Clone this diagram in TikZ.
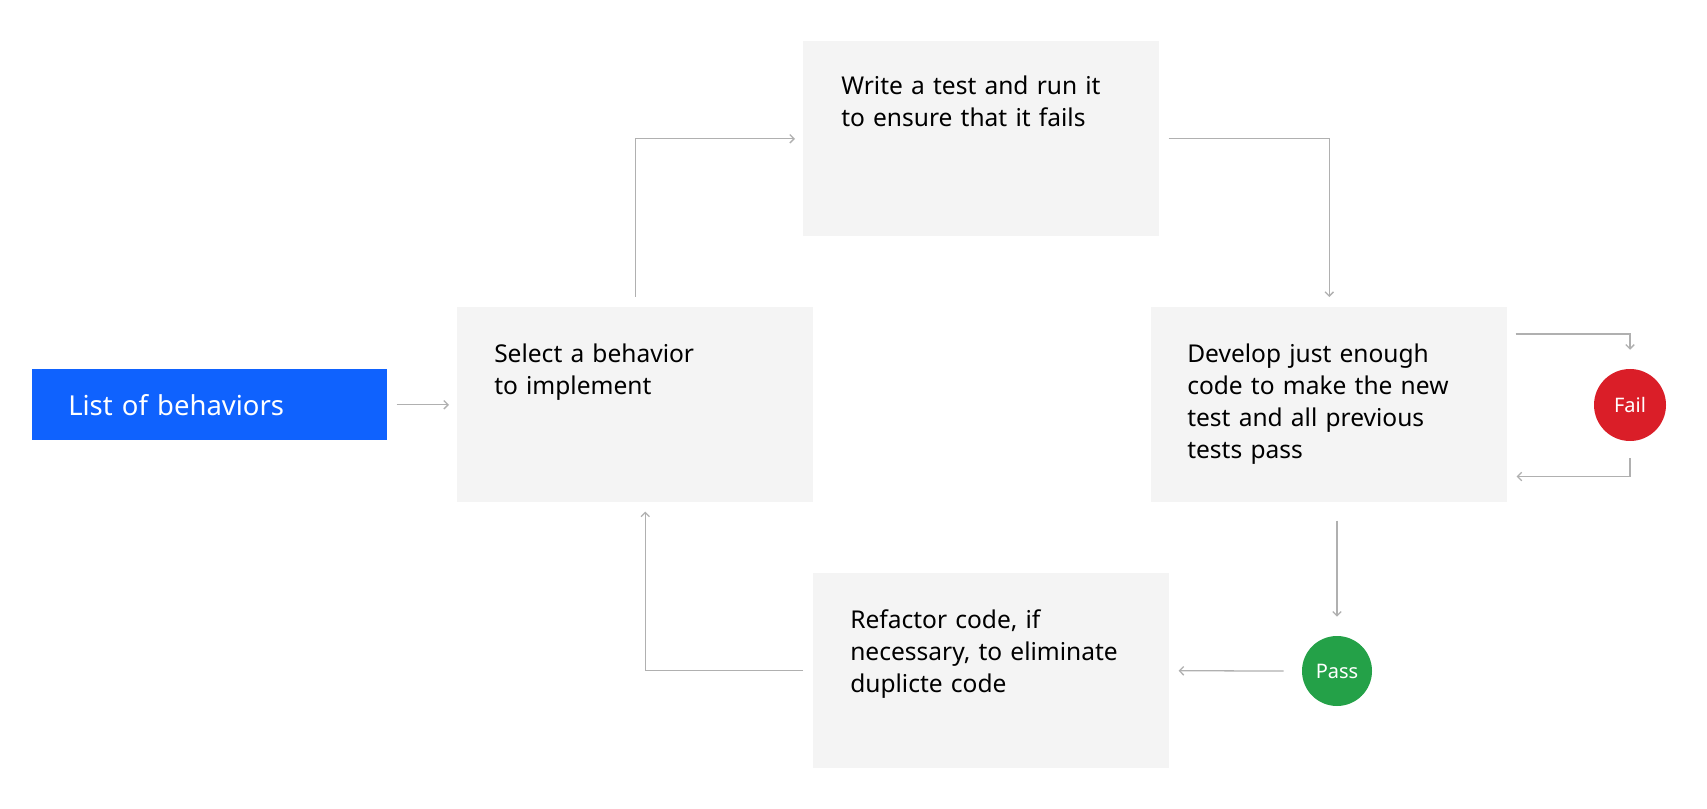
\documentclass[tikz,border=0pt]{standalone}
\usepackage{fontspec}
\setmainfont{Noto Sans}
\usetikzlibrary{arrows.meta,calc}
\definecolor{ibmblue}{HTML}{0F62FE}
\definecolor{boxgray}{HTML}{F4F4F4}
\definecolor{failred}{HTML}{DA1E28}
\definecolor{passgreen}{HTML}{24A148}
\definecolor{linegray}{HTML}{B0B0B0}
\begin{document}
\begin{tikzpicture}[x=0.75pt,y=-0.75pt,
  stepbox/.style={fill=boxgray, draw=none, inner sep=0pt, minimum width=267pt, minimum height=146.25pt, anchor=north west},
  txt/.style={text width=300pt, align=left, inner sep=0pt, anchor=base west, font=\fontsize{18.4}{24}\selectfont},
  conn/.style={draw=linegray, line width=0.95pt, -{Straight Barb[length=3.2pt,width=6.4pt]}},
  dot/.style={circle, inner sep=0pt, text=white, font=\fontsize{15}{18}\selectfont}
]
\fill[white] (0,0) rectangle (1707,809);
\useasboundingbox (0,0) rectangle (1707,809);

\node[fill=ibmblue, inner sep=0pt, minimum width=266.25pt, minimum height=53.25pt, anchor=north west] (list) at (32,369) {};
\node[txt, text=white, font=\fontsize{20.6}{26}\selectfont] (listT) at (68,415) {List of behaviors};

\node[stepbox] (sel) at (457,307) {};
\node[txt] (selT) at (494,363) {Select a behavior\\to implement};

\node[stepbox] (write) at (803,41) {};
\node[txt] (writeT) at (841,95) {Write a test and run it\\to ensure that it fails};

\node[stepbox] (dev) at (1151,307) {};
\node[txt] (devT) at (1187,363) {Develop just enough\\code to make the new\\test and all previous\\tests pass};

\node[stepbox] (ref) at (813,573) {};
\node[txt] (refT) at (850,628) {Refactor code, if\\necessary, to eliminate\\duplicte code};

\node[dot, fill=failred, minimum size=54pt] (fail) at (1630,405) {Fail};
\node[dot, fill=passgreen, minimum size=52.5pt] (pass) at (1337,671) {Pass};

\draw[conn, shorten <=6.75pt, shorten >=6pt] (list.east) -- (sel.west);
\draw[conn, shorten <=7.5pt, shorten >=6pt] (sel.north) |- (write.west);
\draw[conn, shorten <=6.75pt, shorten >=7.5pt] (write.east) -| (dev.north);
\draw[conn, shorten <=6pt, shorten >=14.25pt] ($(dev.north east)+(0,27)$) -| (fail.north);
\draw[conn, shorten <=12.75pt, shorten >=6.75pt] (fail.south) |- ($(dev.south east)+(0,-26)$);
\draw[conn, shorten <=13.5pt, shorten >=14.25pt] (pass.north |- dev.south) -- (pass.north);
\draw[conn, shorten <=13.5pt, shorten >=6.75pt] (pass.west) -- (ref.east);
\draw[conn, shorten <=7.5pt, shorten >=6.75pt] (ref.west) -| ($(sel.south)+(10,0)$);
\end{tikzpicture}
\end{document}
